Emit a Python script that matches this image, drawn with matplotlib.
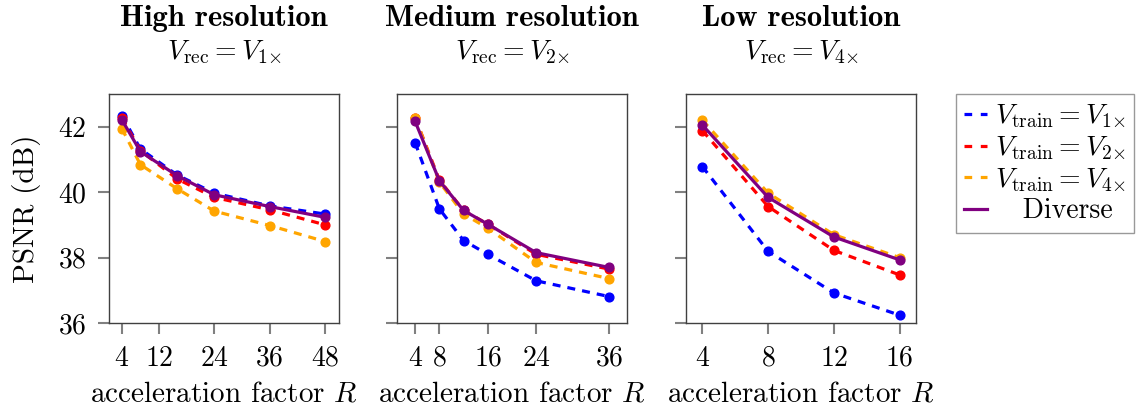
import numpy as np
import matplotlib as mpl
mpl.use('Agg')
import matplotlib.pyplot as plt

plt.rcParams['font.family'] = 'cmr10'
plt.rcParams['mathtext.fontset'] = 'cm'
plt.rcParams['axes.formatter.use_mathtext'] = True

# acceleration factors per resolution
r_high = [4, 8, 16, 24, 36, 48]
r_med = [4, 8, 12, 16, 24, 36]
r_low = [4, 8, 12, 16]

# PSNR (dB), high resolution panel
high_v1 = [42.34, 41.32, 40.52, 39.97, 39.58, 39.33]
high_v2 = [42.27, 41.27, 40.40, 39.84, 39.46, 39.00]
high_v4 = [41.94, 40.84, 40.10, 39.42, 38.98, 38.49]
high_div = [42.21, 41.24, 40.50, 39.92, 39.56, 39.23]

# medium resolution panel
med_v1 = [41.51, 39.49, 38.52, 38.10, 37.29, 36.81]
med_v2 = [42.28, 40.37, 39.44, 39.02, 38.10, 37.65]
med_v4 = [42.28, 40.31, 39.33, 38.90, 37.85, 37.36]
med_div = [42.16, 40.35, 39.44, 39.02, 38.15, 37.70]

# low resolution panel
low_v1 = [40.78, 38.19, 36.92, 36.24]
low_v2 = [41.88, 39.56, 38.22, 37.47]
low_v4 = [42.20, 39.97, 38.70, 38.00]
low_div = [42.05, 39.84, 38.63, 37.93]

titles = ['High resolution', 'Medium resolution', 'Low resolution']
subtitles = [r'$V_{\mathrm{rec}} = V_{1\!\times}$', r'$V_{\mathrm{rec}} = V_{2\!\times}$',
             r'$V_{\mathrm{rec}} = V_{4\!\times}$']
xticks = [[4, 12, 24, 36, 48], [4, 8, 16, 24, 36], [4, 8, 12, 16]]
xlims = [(1.2, 51.0), (1.0, 39.0), (3.0, 17.0)]
labels = [r'$V_{\mathrm{train}} = V_{1\!\times}$', r'$V_{\mathrm{train}} = V_{2\!\times}$',
          r'$V_{\mathrm{train}} = V_{4\!\times}$', '   Diverse']
colors = ['blue', 'red', 'orange', 'purple']

panels = [
    (r_high, [high_v1, high_v2, high_v4, high_div]),
    (r_med, [med_v1, med_v2, med_v4, med_div]),
    (r_low, [low_v1, low_v2, low_v4, low_div]),
]

fig = plt.figure(figsize=(11.43, 4.08), dpi=100)
W, H = 1143, 408
lefts = [109, 397, 686]
width = 230
top, bottom = 94, 323

axes = []
for i, (r, series) in enumerate(panels):
    ax = fig.add_axes((lefts[i] / W, 1 - bottom / H, width / W, (bottom - top) / H),
                      sharey=axes[0] if axes else None)
    axes.append(ax)
    for j, ys in enumerate(series):
        ls = '-' if j == 3 else '--'
        ax.plot(r, ys, ls=ls, color=colors[j], lw=2.3, marker='o', ms=6.3,
                label=labels[j], dashes=(2.5, 2.2) if j < 3 else (None, None))
    ax.set_ylim(36, 43)
    ax.set_yticks([36, 38, 40, 42])
    ax.set_xticks(xticks[i])
    ax.set_xlim(*xlims[i])
    ax.tick_params(direction='out', length=8, width=1.5, color='#808080', labelsize=20,
                   pad=8)
    if i > 0:
        ax.tick_params(labelleft=False)
    for s in ax.spines.values():
        s.set_color('#404040')
        s.set_linewidth(1.0)
    ax.set_xlabel(r'acceleration factor $R$', fontsize=21, labelpad=7)
    ax.set_title(subtitles[i], fontsize=20, pad=25)
    ax.text(0.5, 1.297, titles[i], transform=ax.transAxes, ha='center', va='baseline',
            fontsize=22, family='cmb10')

axes[0].set_ylabel('PSNR (dB)', fontsize=21, labelpad=12)

leg = axes[2].legend(loc='upper left', bbox_to_anchor=(956 / W, 1 - 94 / H),
                     bbox_transform=fig.transFigure, fontsize=20, frameon=True,
                     fancybox=False, edgecolor='#808080', handlelength=0.8,
                     handletextpad=0.3, labelspacing=0.15, borderpad=0.3,
                     borderaxespad=0)
leg.get_frame().set_linewidth(1.0)
for h in leg.get_lines():
    h.set_marker('')
    if h.get_linestyle() == '--':
        h.set_dashes((2.4, 2.7))

fig.savefig('out.png', dpi=100)
